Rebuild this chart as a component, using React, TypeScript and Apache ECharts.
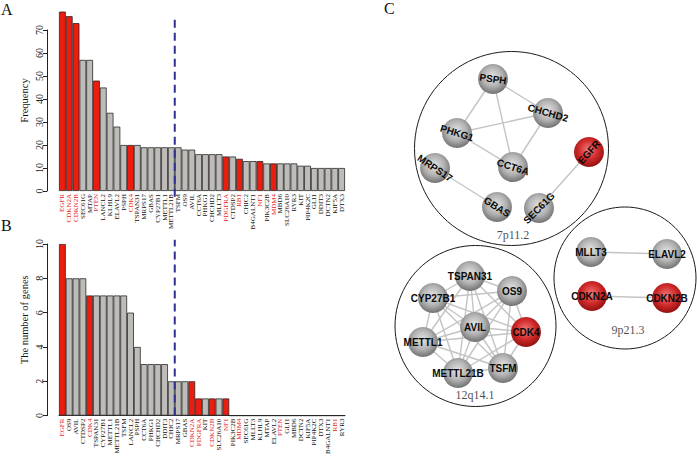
import React, { useEffect, useRef } from 'react';
import * as echarts from 'echarts';

// ---------------- DATA ----------------
const genesA = ['EGFR','CDKN2A','CDKN2B','SEC61G','MTAP','PTEN','LANCL2','KLHL9','ELAVL2','PSPH','CDK4','TSPAN31','MRPS17','GBAS','CYP27B1','METTL1','METTL21B','TSFM','OS9','AVIL','CCT6A','PHKG1','CHCHD2','MLLT3','PDGFRA','CTDSP2','RB1','CHIC2','B4GALNT1','NF1','PIK3C2B','MDM4','MBD6','SLC26A10','RYR3','KIT','PIP4K2C','GLI1','DDIT3','DCTN2','KIF5A','DTX3'];
const frequencyA = [78,76,73,57,57,48,45,34,28,20,20,20,19,19,19,19,19,19,18,18,16,16,16,16,15,15,14,13,13,13,12,12,12,12,12,11,11,10,10,10,10,10];

const genesB = ['EGFR','OS9','AVIL','CTDSP2','CDK4','TSPAN31','CYP27B1','METTL1','METTL21B','TSFM','LANCL2','PSPH','CCT6A','PHKG1','CHCHD2','DDIT3','CHIC2','MRPS17','GBAS','CDKN2A','PDGFRA','KIT','CDKN2B','SLC26A10','NF1','PIK3C2B','MDM4','SEC61G','MLLT3','KLHL9','MTAP','ELAVL2','PTEN','GLI1','MBD6','DCTN2','KIF5A','PIP4K2C','DTX3','B4GALNT1','RB1','RYR3'];
const geneCountB = [10,8,8,8,7,7,7,7,7,7,6,4,3,3,3,3,2,2,2,2,1,1,1,1,1,0,0,0,0,0,0,0,0,0,0,0,0,0,0,0,0,0];

const driverGenes = ['EGFR','CDKN2A','CDKN2B','PTEN','CDK4','PDGFRA','RB1','NF1','MDM4'];
const cutoffAfterIndex = 16; // dashed divider after this bar (both panels)

const axisA = { min: 0, max: 70, interval: 10 };
const axisB = { min: 0, max: 10, interval: 2 };

const clusterNames = ['7p11.2', '12q14.1', '9p21.3'];
const clusterGenes = [
  ['PSPH','CHCHD2','PHKG1','CCT6A','MRPS17','GBAS','SEC61G','EGFR'],
  ['TSPAN31','OS9','CYP27B1','AVIL','CDK4','METTL1','METTL21B','TSFM'],
  ['MLLT3','ELAVL2','CDKN2A','CDKN2B'],
];
const clusterEdgesList = [
  [['PSPH','CHCHD2'],['PSPH','PHKG1'],['PSPH','CCT6A'],['PHKG1','CHCHD2'],['PHKG1','CCT6A'],['CHCHD2','CCT6A'],['MRPS17','GBAS'],['SEC61G','EGFR']],
  'all',
  [['MLLT3','ELAVL2'],['CDKN2A','CDKN2B']],
];

// ---------------- LAYOUT (positions / styles) ----------------
const nodeLayout: Record<string, [number, number]> = {
  PSPH: [493, 79], CHCHD2: [548, 113], PHKG1: [457, 133], CCT6A: [513, 167],
  MRPS17: [435, 168], GBAS: [497, 207], SEC61G: [539, 208], EGFR: [589, 152],
  TSPAN31: [470, 276], OS9: [512, 291], CYP27B1: [433, 298], AVIL: [475, 327],
  CDK4: [526, 332], METTL1: [423, 342], METTL21B: [458, 373], TSFM: [503, 368],
  MLLT3: [591, 252], ELAVL2: [667, 254], CDKN2A: [592, 296], CDKN2B: [667, 298],
};
const labelRotate: Record<string, number> = {
  PSPH: -8, CHCHD2: -16, PHKG1: -17, CCT6A: -18, MRPS17: -34, GBAS: -32, SEC61G: 45, EGFR: 48,
};
const clusterCircle = [[511.5, 148.5, 194], [475.5, 326, 161], [625, 278, 142]];
const clusterLabelPos = [[513, 235], [475, 395], [628, 330]];

const SERIF = 'Liberation Serif';
const SANS = 'Liberation Sans';
const RED = '#ec1c0e';
const GRAY = '#bebcb8';
const RED_TEXT = '#e5231b';
const DASH = '#2e3192';

const graySphere = {
  type: 'radial', x: 0.48, y: 0.42, r: 0.6,
  colorStops: [
    { offset: 0, color: '#e4e4e4' },
    { offset: 0.55, color: '#b2b2b2' },
    { offset: 1, color: '#6c6c6c' },
  ],
};
const redSphere = {
  type: 'radial', x: 0.48, y: 0.42, r: 0.6,
  colorStops: [
    { offset: 0, color: '#f07a7a' },
    { offset: 0.55, color: '#d02a2a' },
    { offset: 1, color: '#8e0e0e' },
  ],
};

function buildEdges(): [string, string][] {
  const out: [string, string][] = [];
  clusterEdgesList.forEach((e, ci) => {
    if (e === 'all') {
      const g = clusterGenes[ci];
      for (let i = 0; i < g.length; i++) for (let j = i + 1; j < g.length; j++) out.push([g[i], g[j]]);
    } else {
      (e as [string, string][]).forEach((p) => out.push(p));
    }
  });
  return out;
}

function catAxis(genes: string[], gridIndex: number, showLine: boolean) {
  return {
    type: 'category', gridIndex, boundaryGap: true,
    data: genes.map((g) => ({ value: g, textStyle: { color: driverGenes.includes(g) ? RED_TEXT : '#111' } })),
    axisLine: { show: showLine, lineStyle: { color: '#222', width: 1 } },
    axisTick: { show: false },
    axisLabel: { interval: 0, rotate: 90, fontSize: 7, fontFamily: SERIF, margin: 3 },
    splitLine: { show: false },
  };
}

function valAxis(gridIndex: number, ax: { min: number; max: number; interval: number }, name: string) {
  return {
    type: 'value', gridIndex, min: ax.min, max: ax.max, interval: ax.interval, offset: 12,
    axisLine: { show: true, lineStyle: { color: '#222', width: 1 } },
    axisTick: { show: true, length: 4, lineStyle: { color: '#222', width: 1 } },
    splitLine: { show: false },
    axisLabel: { rotate: 90, fontSize: 10, fontFamily: SERIF, color: '#222', margin: 3 },
    name, nameLocation: 'middle', nameRotate: 90, nameGap: 17,
    nameTextStyle: { fontFamily: SERIF, fontSize: 10.5, color: '#111', padding: [0, 0, 0, 20] },
  };
}

function barSeries(genes: string[], values: number[], idx: number) {
  return {
    type: 'bar', xAxisIndex: idx, yAxisIndex: idx, clip: false, silent: true,
    barWidth: '100%', barCategoryGap: '0%', barGap: '0%',
    data: values.map((v, i) => ({ value: v, itemStyle: { color: driverGenes.includes(genes[i]) ? RED : GRAY } })),
    itemStyle: { borderColor: '#2a2a2a', borderWidth: 0.8 },
  };
}

function dividerSeries(idx: number, yFrom: number, yTo: number) {
  return {
    type: 'custom', xAxisIndex: idx, yAxisIndex: idx, clip: false, silent: true, z: 5,
    data: [[cutoffAfterIndex, yFrom, yTo]],
    renderItem: (_p: any, api: any) => {
      const a = api.coord([api.value(0), api.value(1)]);
      const b = api.coord([api.value(0), api.value(2)]);
      const half = api.size([1, 0])[0] / 2;
      return {
        type: 'line',
        shape: { x1: a[0] + half, y1: a[1], x2: b[0] + half, y2: b[1] },
        style: { stroke: DASH, lineWidth: 2, lineDash: [8, 5] },
      };
    },
  };
}

export default function App() {
  const ref = useRef<HTMLDivElement>(null);
  useEffect(() => {
    document.body.style.margin = '0';
    const chart = echarts.init(ref.current!, null, { renderer: 'svg' });
    const allNodes = clusterGenes.flat();
    const edges = buildEdges();
    const option: any = {
      animation: false,
      backgroundColor: '#ffffff',
      grid: [
        { left: 59, right: 352, top: 30, bottom: 266 },
        { left: 59, right: 352, top: 244, bottom: 38 },
        { left: 0, right: 0, top: 0, bottom: 0 },
      ],
      xAxis: [
        catAxis(genesA, 0, false),
        catAxis(genesB, 1, true),
        { type: 'value', gridIndex: 2, min: 0, max: 697, show: false },
      ],
      yAxis: [
        valAxis(0, axisA, 'Frequency'),
        valAxis(1, axisB, 'The number of genes'),
        { type: 'value', gridIndex: 2, min: 0, max: 457, inverse: true, show: false },
      ],
      series: [
        barSeries(genesA, frequencyA, 0),
        barSeries(genesB, geneCountB, 1),
        dividerSeries(0, -2.5, 74.5),
        dividerSeries(1, 0, 10.25),
        {
          type: 'scatter', xAxisIndex: 2, yAxisIndex: 2, z: 1, silent: true,
          data: clusterNames.map((n, i) => ({ name: n, value: clusterCircle[i] })),
          symbolSize: (v: number[]) => v[2],
          itemStyle: { color: 'rgba(255,255,255,0)', borderColor: '#1a1a1a', borderWidth: 1, opacity: 1 },
        },
        {
          type: 'scatter', xAxisIndex: 2, yAxisIndex: 2, z: 4, silent: true,
          symbolSize: 1,
          itemStyle: { color: 'rgba(255,255,255,0)' },
          data: clusterNames.map((n, i) => ({ name: n, value: clusterLabelPos[i] })),
          label: {
            show: true, position: 'inside', formatter: '{b}', fontFamily: SERIF, fontSize: 12,
            color: '#1a1a1a', textBorderWidth: 0, textShadowBlur: 0,
          },
        },
        {
          type: 'graph', layout: 'none', coordinateSystem: 'cartesian2d', xAxisIndex: 2, yAxisIndex: 2,
          z: 3, silent: true, symbol: 'circle', symbolSize: 30,
          data: allNodes.map((g) => ({
            name: g,
            value: nodeLayout[g],
            itemStyle: { color: driverGenes.includes(g) ? redSphere : graySphere },
            label: { rotate: labelRotate[g] ?? 0 },
          })),
          links: edges.map(([s, t]) => ({ source: s, target: t })),
          lineStyle: { color: '#c4c4c4', width: 1.4, opacity: 1, curveness: 0 },
          label: { show: true, position: 'inside', fontFamily: SANS, fontWeight: 'bold', fontSize: 10, color: '#0a0a0a' },
        },
      ],
      graphic: [
        { type: 'text', left: 1, top: 1, style: { text: 'A', fontFamily: SERIF, fontSize: 16, fill: '#111' } },
        { type: 'text', left: 1, top: 217, style: { text: 'B', fontFamily: SERIF, fontSize: 16, fill: '#111' } },
        { type: 'text', left: 384, top: 0, style: { text: 'C', fontFamily: SERIF, fontSize: 16, fill: '#111' } },
      ],
    };
    chart.setOption(option);
    return () => chart.dispose();
  }, []);
  return <div ref={ref} style={{ width: 697, height: 457 }} />;
}
